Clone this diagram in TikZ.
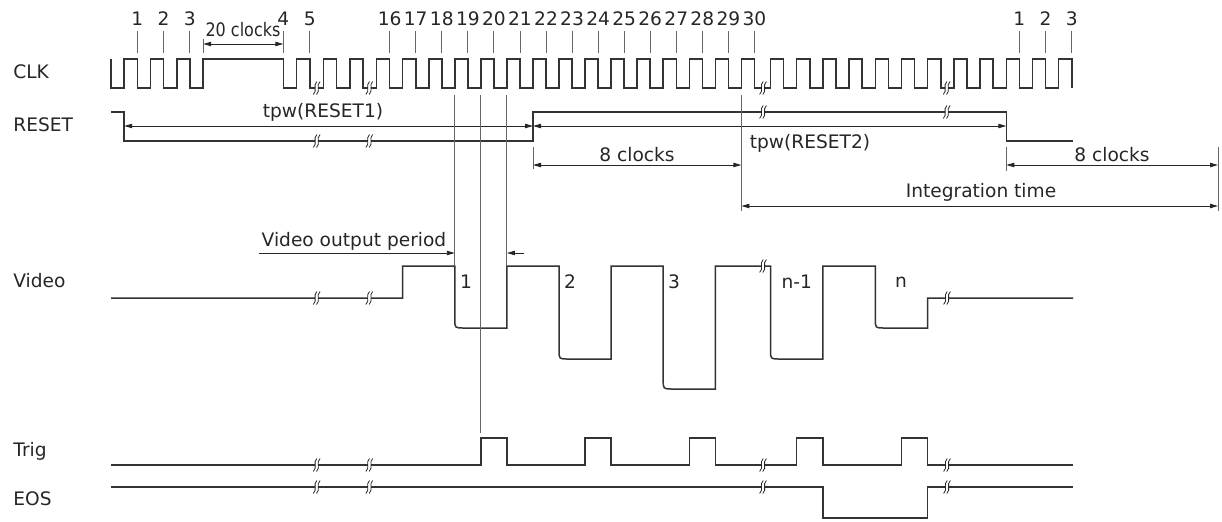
\documentclass[tikz,border=0pt]{standalone}
\usepackage{fontspec}
\setmainfont{DejaVu Sans}
\usetikzlibrary{arrows.meta}

\begin{document}
\begin{tikzpicture}[
    x=0.5pt, y=-0.5pt,
    signal/.style={line width=0.75pt, color=black!80},
    guide line/.style={line width=0.45pt, color=black!60},
    dim line/.style={line width=0.45pt, color=black!85,
        {Triangle[length=4pt,width=2.2pt]}-{Triangle[length=4pt,width=2.2pt]}},
    half dim/.style={line width=0.45pt, color=black!85,
        -{Triangle[length=4pt,width=2.2pt]}},
    every node/.style={font=\fontsize{9.3}{11}\selectfont, inner sep=0pt,
        color=black!85},
    brk/.pic={
        \fill[white] (-1.6,-1.6) rectangle (1.6,1.6);
        \foreach \d in {-1.6,1.6}
            \draw[line width=0.4pt, black!85] (\d+1.8,-6.5)
                .. controls (\d-2.6,-2.5) and (\d+2.6,2.5) .. (\d-1.8,6.5);
    }
    ]
    \useasboundingbox (0,0) rectangle (1222,521);
    % signal names
    \node[anchor=west] (clk) at (13,72) {CLK};
    \node[anchor=west] (reset) at (13,125) {RESET};
    \node[anchor=west] (video) at (13,281) {Video};
    \node[anchor=west] (trig) at (13,451) {Trig};
    \node[anchor=west] (eos) at (13,499) {EOS};

    % CLK
    \draw[signal] (111,59) -- (111,88)
        \foreach \r in {124.2,150.5,176.8}
            { -- (\r,88) -- (\r,59) -- ({\r+13.1},59) -- ({\r+13.1},88) }
        -- (203.2,88) -- (203.2,59) -- (283.3,59) -- (283.3,88)
        \foreach \r in {296.6,323.3,349.9,376.4}
            { -- (\r,88) -- (\r,59) -- ({\r+13.3},59) -- ({\r+13.3},88) }
        \foreach \k in {0,...,13}
            { -- ({402.73+26.05*\k},88) -- ({402.73+26.05*\k},59)
              -- ({415.76+26.05*\k},59) -- ({415.76+26.05*\k},88) }
        \foreach \k in {0,...,11}
            { -- ({770.5+26.2*\k},88) -- ({770.5+26.2*\k},59)
              -- ({783.6+26.2*\k},59) -- ({783.6+26.2*\k},88) };
    \foreach \p in {316.7,369.3,763,946.7} \pic at (\p,88) {brk};

    % clock numbers
    \foreach \n/\x in {1/137.3,2/163.6,3/189.9,4/283.3,5/309.7} {
        \draw[guide line] (\x,31) -- (\x,53);
        \node (num\n) at (\x,18.5) {\n};
    }
    \foreach \n in {16,...,30} {
        \pgfmathsetmacro\xx{389.7+26.05*(\n-16)}
        \draw[guide line] (\xx,31) -- (\xx,53);
        \node (num\n) at (\xx,18.5) {\n};
    }
    \foreach \n/\x in {1/1019.4,2/1045.6,3/1071.8} {
        \draw[guide line] (\x,31) -- (\x,53);
        \node (next\n) at (\x,18.5) {\n};
    }
    \draw[guide line] (203.2,39) -- (203.2,53);
    \draw[dim line] (203.2,44) -- (283.3,44);
    \node[xscale=0.86] (twenty) at (243,30) {20 clocks};

    % RESET
    \draw[signal] (111,112) -- (124.2,112) -- (124.2,141) -- (533,141)
        -- (533,112) -- (1006.3,112) -- (1006.3,141) -- (1073,141);
    \foreach \p in {316.7,369.3} \pic at (\p,141) {brk};
    \foreach \p in {763,946.7} \pic at (\p,112) {brk};
    \draw[dim line] (124.2,126) -- (533,126);
    \node (tpw1) at (323,112) {tpw(RESET1)};
    \draw[dim line] (533,126) -- (1006.3,126);
    \node (tpw2) at (810,143) {tpw(RESET2)};

    % 8 clocks, integration time
    \draw[guide line] (533,147) -- (533,169);
    \draw[guide line] (741.4,95) -- (741.4,211);
    \draw[dim line] (533,165) -- (741.4,165);
    \node (eight1) at (637,155) {8 clocks};
    \draw[guide line] (1006.3,147) -- (1006.3,171);
    \draw[guide line] (1218,147) -- (1218,211);
    \draw[dim line] (1006.3,165) -- (1218,165);
    \node (eight2) at (1112,155) {8 clocks};
    \draw[dim line] (741.4,206) -- (1218,206);
    \node (integ) at (981,192) {Integration time};

    % Video
    \draw[signal] (111,298) -- (402.7,298) -- (402.7,266) -- (454.8,266)
        -- (454.8,319) .. controls (454.8,328) .. (463.8,328) -- (506.9,328)
        -- (506.9,266) -- (559,266)
        -- (559,350) .. controls (559,359) .. (568,359) -- (611.1,359)
        -- (611.1,266) -- (663.2,266)
        -- (663.2,380) .. controls (663.2,389) .. (672.2,389) -- (715.3,389)
        -- (715.3,266) -- (770.5,266)
        -- (770.5,350) .. controls (770.5,359) .. (779.5,359) -- (822.9,359)
        -- (822.9,266) -- (875.3,266)
        -- (875.3,319) .. controls (875.3,328) .. (884.3,328) -- (927.7,328)
        -- (927.7,298) -- (1073,298);
    \foreach \p in {316.7,369.3,947} \pic at (\p,298) {brk};
    \pic at (763,266) {brk};
    \foreach \n/\x in {1/466,2/570,3/674,n-1/796.7,n/901}
        \node (pix\n) at (\x,282) {\n};

    % video output period
    \draw[guide line] (454.8,95) -- (454.8,266);
    \draw[guide line] (506.9,95) -- (506.9,266);
    \draw[guide line] (480.9,95) -- (480.9,433);
    \draw[half dim] (259,253) -- (454.8,253);
    \draw[half dim] (524,253) -- (506.9,253);
    \node (period) at (354,241) {Video output period};

    % Trig
    \draw[signal] (111,465)
        \foreach \a/\b in {480.9/506.9,585.1/611.1,689.3/715.3,796.7/822.9,901.5/927.7}
            { -- (\a,465) -- (\a,438) -- (\b,438) -- (\b,465) }
        -- (1073,465);
    \foreach \p in {316.7,369.3,763,947} \pic at (\p,465) {brk};

    % EOS
    \draw[signal] (111,487) -- (822.9,487) -- (822.9,518) -- (927.7,518)
        -- (927.7,487) -- (1073,487);
    \foreach \p in {316.7,369.3,763,947} \pic at (\p,487) {brk};
\end{tikzpicture}
\end{document}
